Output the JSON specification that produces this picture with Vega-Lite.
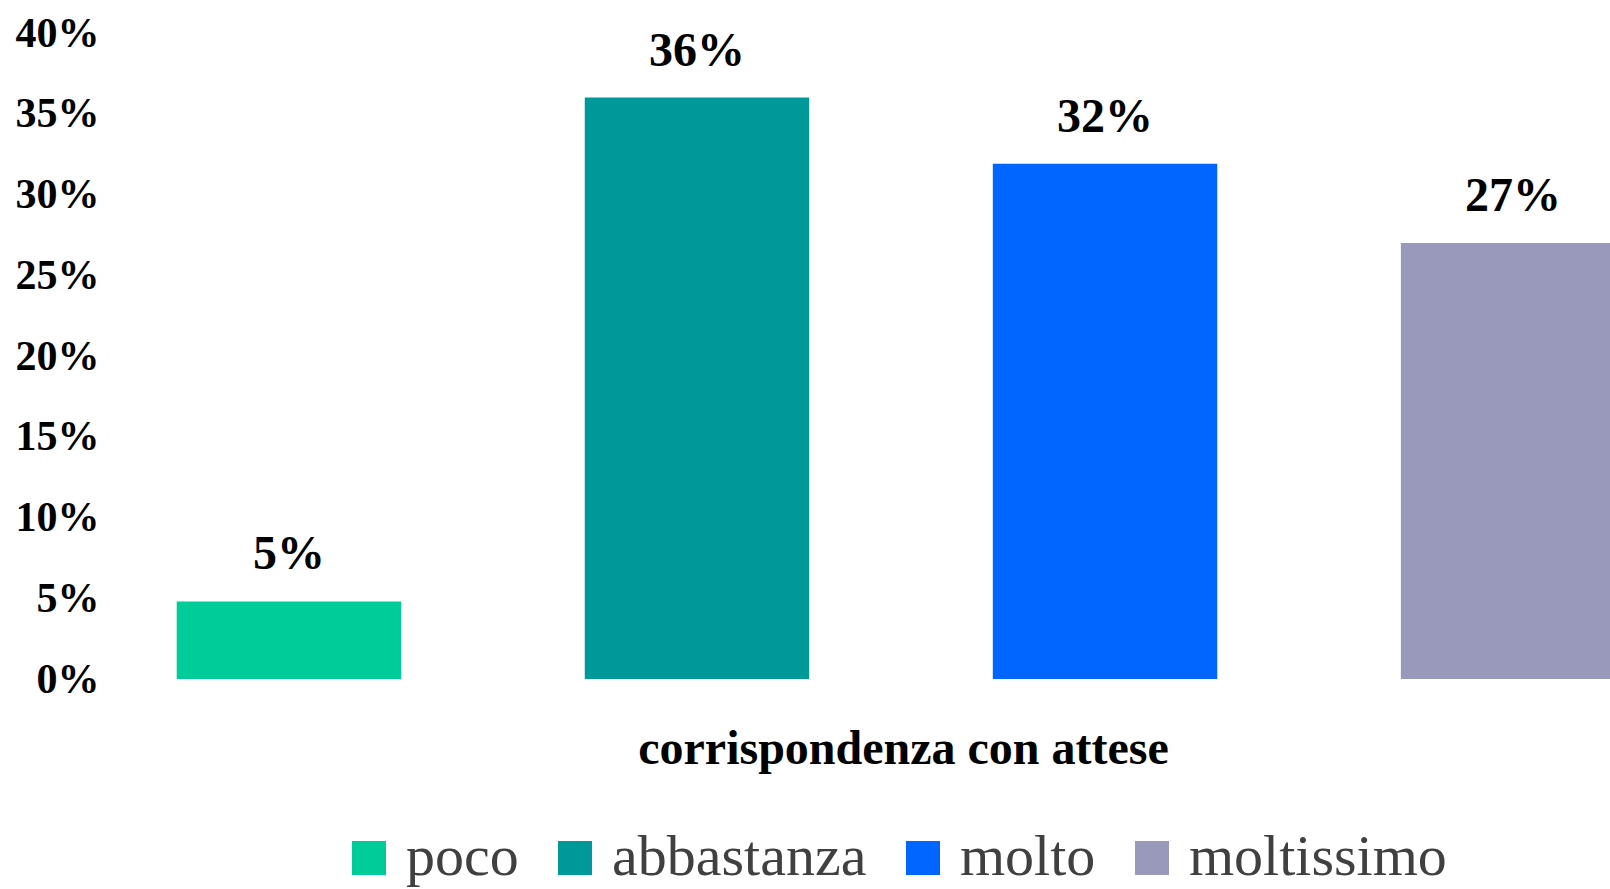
{
  "$schema": "https://vega.github.io/schema/vega-lite/v6.json",
  "autosize": {"type": "none"},
  "padding": {"left": 100, "top": 33, "right": 0, "bottom": 210},
  "width": 1510,
  "height": 646,
  "background": "white",
  "data": {
    "values": [
      {"cat": "poco", "value": 0.048},
      {"cat": "abbastanza", "value": 0.36},
      {"cat": "molto", "value": 0.319},
      {"cat": "moltissimo", "value": 0.27}
    ]
  },
  "config": {
    "view": {"stroke": null},
    "font": "Liberation Serif"
  },
  "encoding": {
    "x": {
      "field": "cat",
      "type": "nominal",
      "sort": ["poco", "abbastanza", "molto", "moltissimo"],
      "scale": {"range": [0, 1602], "paddingInner": 0.45, "paddingOuter": 0.188},
      "axis": {
        "title": "corrispondenza con attese",
        "labels": false,
        "ticks": false,
        "domain": false,
        "titleFont": "Liberation Serif",
        "titleFontSize": 48,
        "titleFontWeight": "bold",
        "titleColor": "#000000",
        "titlePadding": 46,
        "titleX": 803
      }
    },
    "y": {
      "field": "value",
      "type": "quantitative",
      "scale": {"domain": [0, 0.4], "nice": false},
      "axis": {
        "title": null,
        "format": ".0%",
        "values": [0, 0.05, 0.1, 0.15, 0.2, 0.25, 0.3, 0.35, 0.4],
        "grid": false,
        "ticks": false,
        "domain": false,
        "labelFont": "Liberation Serif",
        "labelFontSize": 42,
        "labelFontWeight": "bold",
        "labelColor": "#000000",
        "labelPadding": 1
      }
    }
  },
  "layer": [
    {
      "mark": {"type": "bar", "clip": true},
      "encoding": {
        "color": {
          "field": "cat",
          "type": "nominal",
          "sort": ["poco", "abbastanza", "molto", "moltissimo"],
          "scale": {
            "domain": ["poco", "abbastanza", "molto", "moltissimo"],
            "range": ["#00CC99", "#009999", "#0066FF", "#9999BB"]
          },
          "legend": {
            "title": null,
            "orient": "none",
            "direction": "horizontal",
            "legendX": 240,
            "legendY": 796,
            "symbolType": "square",
            "symbolSize": 1156,
            "symbolStrokeWidth": 0,
            "symbolOpacity": 1,
            "labelFont": "Liberation Serif",
            "labelFontSize": 58,
            "labelColor": "#404040",
            "labelOffset": 8,
            "columnPadding": 27,
            "labelLimit": 400
          }
        }
      }
    },
    {
      "mark": {
        "type": "text",
        "baseline": "alphabetic",
        "dy": -32,
        "font": "Liberation Serif",
        "fontSize": 48,
        "fontWeight": "bold",
        "color": "#000000"
      },
      "encoding": {
        "text": {"field": "value", "type": "quantitative", "format": ".0%"}
      }
    }
  ]
}
